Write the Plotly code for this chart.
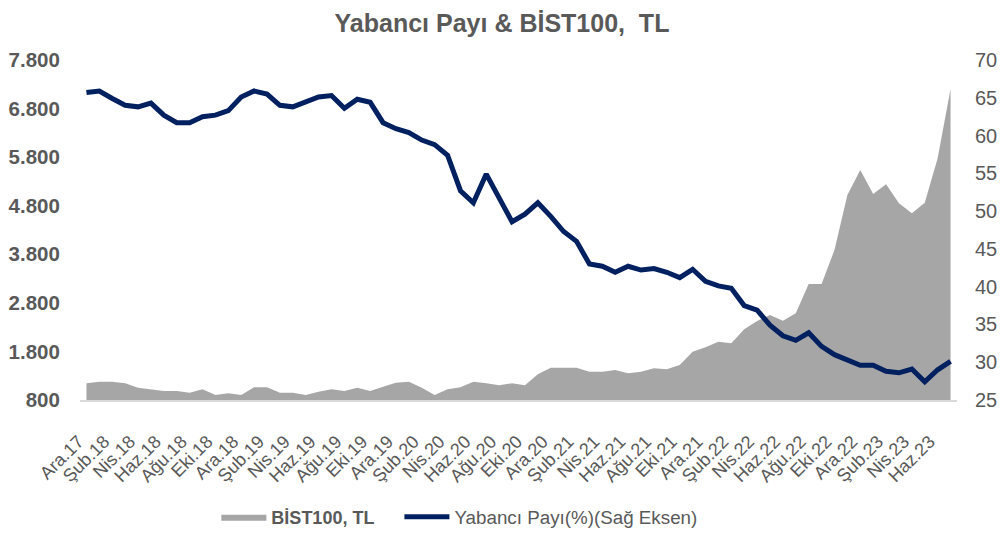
import plotly.graph_objects as go

months = [
    "Ara.17",
    "Oca.18", "Şub.18", "Mar.18", "Nis.18", "May.18", "Haz.18", "Tem.18", "Ağu.18", "Eyl.18", "Eki.18", "Kas.18", "Ara.18",
    "Oca.19", "Şub.19", "Mar.19", "Nis.19", "May.19", "Haz.19", "Tem.19", "Ağu.19", "Eyl.19", "Eki.19", "Kas.19", "Ara.19",
    "Oca.20", "Şub.20", "Mar.20", "Nis.20", "May.20", "Haz.20", "Tem.20", "Ağu.20", "Eyl.20", "Eki.20", "Kas.20", "Ara.20",
    "Oca.21", "Şub.21", "Mar.21", "Nis.21", "May.21", "Haz.21", "Tem.21", "Ağu.21", "Eyl.21", "Eki.21", "Kas.21", "Ara.21",
    "Oca.22", "Şub.22", "Mar.22", "Nis.22", "May.22", "Haz.22", "Tem.22", "Ağu.22", "Eyl.22", "Eki.22", "Kas.22", "Ara.22",
    "Oca.23", "Şub.23", "Mar.23", "Nis.23", "May.23", "Haz.23", "Tem.23",
]

bist100 = [
    1144, 1177, 1177, 1144, 1054, 1020, 985, 985, 950, 1020,
    903, 938, 903, 1061, 1061, 950, 950, 903, 971, 1020,
    985, 1054, 985, 1074, 1157, 1177, 1054, 903, 1020, 1061,
    1177, 1144, 1102, 1144, 1102, 1329, 1466, 1466, 1466, 1383,
    1383, 1418, 1349, 1383, 1452, 1432, 1521, 1795, 1885, 2001,
    1967, 2255, 2426, 2550, 2433, 2585, 3188, 3188, 3889, 5021,
    5536, 5042, 5241, 4850, 4644, 4862, 5776, 7204,
]

yabanci_payi = [
    65.7, 65.9, 64.9, 64.0, 63.8, 64.3, 62.7, 61.7, 61.7, 62.5,
    62.7, 63.3, 65.1, 65.9, 65.5, 64.0, 63.8, 64.4, 65.1, 65.3,
    63.6, 64.8, 64.4, 61.7, 60.9, 60.4, 59.4, 58.8, 57.4, 52.7,
    51.1, 54.9, 51.7, 48.6, 49.6, 51.1, 49.3, 47.3, 46.0, 43.0,
    42.7, 41.9, 42.7, 42.2, 42.4, 41.9, 41.2, 42.3, 40.7, 40.1,
    39.8, 37.5, 36.9, 34.9, 33.5, 32.9, 33.9, 32.1, 31.0, 30.3,
    29.6, 29.6, 28.8, 28.6, 29.1, 27.4, 29.0, 30.1,
]

left_ticks = [800, 1800, 2800, 3800, 4800, 5800, 6800, 7800]
right_ticks = [25, 30, 35, 40, 45, 50, 55, 60, 65, 70]
x_tick_labels = months[::2]

GRAY_TEXT = "#595959"
FONT = "Liberation Sans, Arial, sans-serif"

# the page body adds an 8px margin, so the figure is drawn 8px smaller
W, H = 997, 530

fig = go.Figure()
fig.add_trace(go.Scatter(
    x=months, y=bist100, name="<b>BİST100, TL</b>" + "\u00a0" * 4,
    mode="lines", fill="tozeroy", fillcolor="#A6A6A6",
    line=dict(width=0, color="#A6A6A6"), yaxis="y",
))
fig.add_trace(go.Scatter(
    x=months, y=yabanci_payi,
    name='<span style="font-size:18.8px">Yabancı Payı(%)(Sağ Eksen)</span>',
    mode="lines", line=dict(width=5, color="#002060"), yaxis="y2",
))

fig.update_layout(
    width=W, height=H,
    margin=dict(l=71.5, r=47.5, t=52, b=138, autoexpand=False),
    paper_bgcolor="white", plot_bgcolor="white",
    separators=",.",
    font=dict(family=FONT, color=GRAY_TEXT),
    title=dict(text="<b>Yabancı Payı & BİST100,  TL</b>", x=494 / W, xref="container",
               xanchor="center", y=1 - 6 / H, yanchor="top", pad=dict(t=0, b=0),
               font=dict(size=25, color=GRAY_TEXT, family=FONT)),
    xaxis=dict(
        type="category", range=[-0.5, 67.5], automargin=False,
        tickmode="array", tickvals=x_tick_labels, ticktext=x_tick_labels,
        tickangle=-45, tickfont=dict(size=18, color=GRAY_TEXT),
        ticklabelshift=-8, ticklabelstandoff=22,
        showgrid=False, showline=True, linecolor="#D9D9D9", linewidth=2,
        ticks="", zeroline=False,
    ),
    yaxis=dict(
        range=[800, 7800], tickmode="array", tickvals=left_ticks,
        tickformat=",d", automargin=False,
        tickfont=dict(size=20.5, color=GRAY_TEXT, family=FONT, weight="bold"),
        showgrid=False, zeroline=False, showline=False,
        ticks="outside", ticklen=15, tickcolor="rgba(0,0,0,0)",
    ),
    yaxis2=dict(
        range=[25, 70], tickmode="array", tickvals=right_ticks,
        overlaying="y", side="right", automargin=False,
        tickfont=dict(size=20, color=GRAY_TEXT, family=FONT),
        showgrid=False, zeroline=False, showline=False,
        ticks="outside", ticklen=13, tickcolor="rgba(0,0,0,0)",
    ),
    legend=dict(
        orientation="h", x=0.1555, xanchor="left", y=-0.344, yanchor="middle",
        font=dict(size=18, color=GRAY_TEXT), itemwidth=45,
        bgcolor="rgba(0,0,0,0)",
    ),
    showlegend=True,
)

fig.write_html("out.html")
